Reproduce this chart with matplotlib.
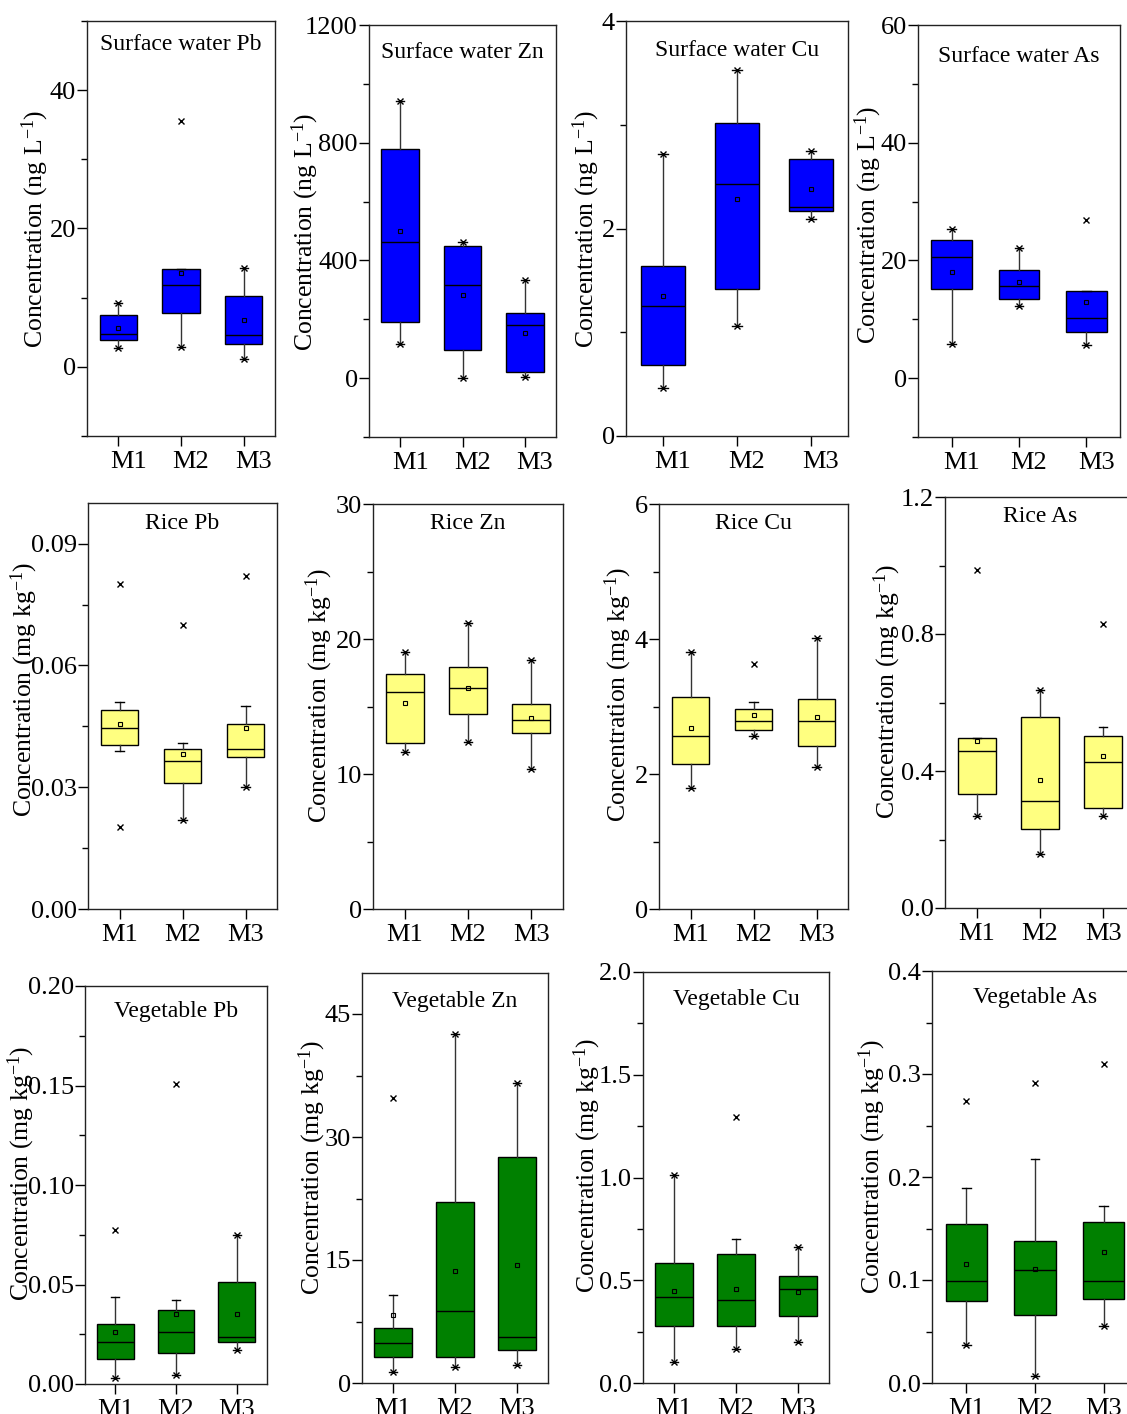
import matplotlib
matplotlib.use("Agg")
import matplotlib.pyplot as plt
import matplotlib.transforms as mtransforms
from matplotlib.ticker import MultipleLocator, FormatStrFormatter

plt.rcParams['font.family'] = ['Liberation Serif', 'DejaVu Serif']
plt.rcParams['mathtext.fontset'] = 'custom'
plt.rcParams['mathtext.rm'] = 'Liberation Serif'

# data, order of panels: row by row
titles = ["Surface water Pb", "Surface water Zn", "Surface water Cu", "Surface water As",
          "Rice Pb", "Rice Zn", "Rice Cu", "Rice As",
          "Vegetable Pb", "Vegetable Zn", "Vegetable Cu", "Vegetable As"]
sites = ["M1", "M2", "M3"]

q1 = [[3.9, 7.75, 3.3], [192, 94, 22], [0.68, 1.42, 2.17], [15.1, 13.4, 7.8],
      [0.0404, 0.0310, 0.0374], [12.3, 14.47, 13.06], [2.15, 2.65, 2.41], [0.334, 0.232, 0.292],
      [0.0124, 0.0154, 0.0212], [3.13, 3.13, 4.07], [0.278, 0.278, 0.328], [0.0794, 0.0664, 0.0813]]
med = [[4.8, 11.8, 4.6], [462, 315, 179], [1.25, 2.43, 2.21], [20.6, 15.6, 10.2],
       [0.0445, 0.0365, 0.0395], [16.1, 16.4, 14.0], [2.56, 2.79, 2.79], [0.457, 0.312, 0.426],
       [0.0211, 0.0261, 0.0236], [4.92, 8.82, 5.61], [0.417, 0.406, 0.459], [0.0991, 0.110, 0.0991]]
q3 = [[7.5, 14.1, 10.25], [778, 450, 221], [1.64, 3.02, 2.67], [23.5, 18.4, 14.8],
      [0.0491, 0.0394, 0.0455], [17.41, 17.93, 15.21], [3.14, 2.97, 3.11], [0.497, 0.557, 0.502],
      [0.0301, 0.0373, 0.0513], [6.75, 22.03, 27.56], [0.584, 0.630, 0.523], [0.154, 0.138, 0.156]]
whis_lo = [[2.7, 2.9, 1.2], [117, 2, 3], [0.46, 1.06, 2.09], [5.8, 12.3, 5.55],
           [0.0390, 0.0219, 0.0300], [11.65, 12.37, 10.35], [1.79, 2.56, 2.10], [0.268, 0.159, 0.268],
           [0.0030, 0.0043, 0.0171], [1.34, 1.95, 2.20], [0.102, 0.167, 0.200], [0.0366, 0.0071, 0.0551]]
whis_hi = [[9.3, 14.1, 14.3], [942, 461, 332], [2.72, 3.53, 2.75], [25.3, 22.1, 14.8],
           [0.0510, 0.0409, 0.0500], [19.01, 21.16, 18.44], [3.81, 3.06, 4.01], [0.497, 0.637, 0.528],
           [0.0436, 0.0420, 0.0751], [10.77, 42.52, 36.54], [1.011, 0.701, 0.664], [0.189, 0.217, 0.172]]
means = [[5.6, 13.5, 6.7], [500, 281, 153], [1.35, 2.28, 2.38], [18.1, 16.3, 13.0],
         [0.0455, 0.0382, 0.0445], [15.23, 16.4, 14.17], [2.68, 2.87, 2.84], [0.487, 0.375, 0.443],
         [0.0261, 0.0350, 0.0351], [8.25, 13.70, 14.43], [0.450, 0.455, 0.443], [0.116, 0.111, 0.127]]
mins = [[2.7, 2.9, 1.2], [117, 2, 3], [0.46, 1.06, 2.09], [5.8, 12.3, 5.55],
        [0.0201, 0.0219, 0.0300], [11.65, 12.37, 10.35], [1.79, 2.56, 2.10], [0.268, 0.159, 0.268],
        [0.0030, 0.0043, 0.0171], [1.34, 1.95, 2.20], [0.102, 0.167, 0.200], [0.0366, 0.0071, 0.0551]]
maxs = [[9.3, 35.6, 14.3], [942, 461, 332], [2.72, 3.53, 2.75], [25.3, 22.1, 26.9],
        [0.0800, 0.0699, 0.0819], [19.01, 21.16, 18.44], [3.81, 3.63, 4.01], [0.988, 0.637, 0.828],
        [0.0774, 0.1508, 0.0751], [34.7, 42.52, 36.54], [1.011, 1.294, 0.664], [0.274, 0.2915, 0.310]]

# axis settings
ylims = [(-10, 50), (-200, 1200), (0, 4), (-10, 60),
         (0, 0.1), (0, 30), (0, 6), (0, 1.2),
         (0, 0.2), (0, 50), (0, 2), (0, 0.4)]
major = [20, 400, 2, 20, 0.03, 10, 2, 0.4, 0.05, 15, 0.5, 0.1]
fmts = ['%d', '%d', '%d', '%d', '%.2f', '%d', '%d', '%.1f', '%.2f', '%d', '%.1f', '%.1f']
colors = ['#0000ff'] * 4 + ['#ffff80'] * 4 + ['#008000'] * 4
units = ['ng L'] * 4 + ['mg kg'] * 8

# layout in pixels: left, top, right, bottom
W, H = 1127, 1414
rects = [(87, 21, 275, 436), (369, 25, 556, 437), (626, 21, 848, 436), (918, 25, 1120, 437),
         (88, 503, 277, 909), (373, 504, 563, 909), (659, 504, 848, 909), (945, 497, 1135, 908),
         (85, 986, 267, 1384), (362, 973, 548, 1383), (643, 972, 829, 1383), (932, 971, 1138, 1383)]
ylab_pos = [(35, 229), (305, 232), (586, 229), (868, 225),
            (24, 689), (319, 695), (618, 694), (887, 691),
            (21, 1173), (312, 1167), (587, 1165), (872, 1166)]
title_off = [24, 28, 29, 32, 20, 19, 19, 20, 26, 28, 28, 27]
xlab_dx = [10] * 4 + [0] * 8   # top row site labels sit a bit right of the ticks

fig = plt.figure(figsize=(W / 100, H / 100), dpi=100)
pos = [1, 2, 3]

for i in range(12):
    l, t, r, b = rects[i]
    ax = fig.add_axes([l / W, 1 - b / H, (r - l) / W, (b - t) / H])

    stats = []
    for j in range(3):
        stats.append(dict(med=med[i][j], q1=q1[i][j], q3=q3[i][j],
                          whislo=whis_lo[i][j], whishi=whis_hi[i][j],
                          mean=means[i][j], fliers=[]))
    ax.bxp(stats, positions=pos, widths=0.6, patch_artist=True,
           showmeans=True, showfliers=False, capwidths=0.13,
           boxprops=dict(facecolor=colors[i], edgecolor='black', lw=1),
           medianprops=dict(color='black', lw=1),
           whiskerprops=dict(color='#333333', lw=1),
           capprops=dict(color='black', lw=1),
           meanprops=dict(marker='s', markerfacecolor='none', markeredgecolor='black',
                          markersize=3.5, markeredgewidth=0.8))
    ax.plot(pos, mins[i], 'x', color='black', ms=5, mew=1, zorder=5)
    ax.plot(pos, maxs[i], 'x', color='black', ms=5, mew=1, zorder=5)

    ax.set_xlim(0.5, 3.5)
    ax.set_ylim(*ylims[i])
    ax.set_xticks(pos)
    ax.set_xticklabels(sites)
    ax.yaxis.set_major_locator(MultipleLocator(major[i]))
    ax.yaxis.set_minor_locator(MultipleLocator(major[i] / 2))
    ax.yaxis.set_major_formatter(FormatStrFormatter(fmts[i]))
    ax.tick_params(axis='both', which='major', direction='out', length=7, width=1,
                   labelsize=19, pad=1)
    ax.tick_params(axis='x', pad=4)
    ax.tick_params(axis='y', which='minor', direction='out', length=4, width=1)
    for s in ax.spines.values():
        s.set_linewidth(1)
        s.set_color('#222222')

    if xlab_dx[i]:
        shift = mtransforms.ScaledTranslation(xlab_dx[i] / 100, 0, fig.dpi_scale_trans)
        for lab in ax.get_xticklabels():
            lab.set_transform(lab.get_transform() + shift)

    ax.set_ylabel('Concentration (' + units[i] + r'$\mathregular{^{-1}}$)',
                  fontsize=18.5, va='center')
    lx, ly = ylab_pos[i]
    ax.yaxis.set_label_coords(lx / W, 1 - ly / H, transform=fig.transFigure)

    ty = t + title_off[i]
    ax.text(0.5, 1 - (ty - t) / (b - t), titles[i], transform=ax.transAxes,
            ha='center', va='center', fontsize=17)

fig.savefig("out.png", dpi=100)
